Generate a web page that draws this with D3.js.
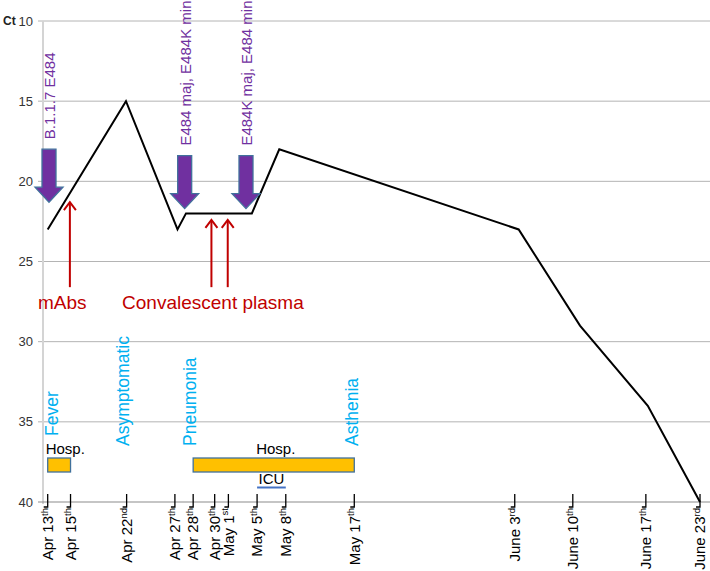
<!DOCTYPE html>
<html>
<head>
<meta charset="utf-8">
<script src="https://cdn.jsdelivr.net/npm/d3@7"></script>
<style>
  body { margin: 0; background: #fff; }
  text { font-family: Arial, "Liberation Sans", sans-serif; }
</style>
</head>
<body>
<svg id="chart" width="710" height="571"></svg>
<script>
// y axis (Ct values, inverted)
var ctTicks = [10, 15, 20, 25, 30, 35, 40];

// custom (non-linear) date axis, positions in axis units 0..100
var dateLabels = ["Apr 13", "Apr 15", "Apr 22", "Apr 27", "Apr 28", "Apr 30", "May 1",
                  "May 5", "May 8", "May 17", "June 3", "June 10", "June 17", "June 23"];
var dateSup = ["th", "th", "nd", "th", "th", "th", "st", "th", "th", "th", "rd", "th", "th", "rd"];
var datePos = [0, 3.5, 12.1, 19.5, 22.3, 25.6, 27.7, 32.1, 36.5, 47.0, 71.6, 80.5, 91.7, 100];

// Ct curve
var ctPos = [0, 12.0, 19.9, 21.2, 31.3, 35.5, 72.2, 81.6, 92.0, 100];
var ctValues = [23, 15, 23, 22, 22, 18, 23, 29, 34, 40];

// variant arrows (purple)
var variantLabels = ["B.1.1.7 E484", "E484 maj, E484K min", "E484K maj, E484 min"];
var variantPos = [0.2, 21.0, 30.4];
var variantTip = [21.3, 21.7, 21.7];

// treatments (red arrows)
var treatLabels = ["mAbs", "Convalescent plasma"];
var treatLabelPos = [-1.5, 11.4];
var treatPos = [3.4, 25.1, 27.6];
var treatTip = [21.3, 22.4, 22.4];

// symptoms
var symptomLabels = ["Fever", "Asymptomatic", "Pneumonia", "Asthenia"];
var symptomPos = [0.6, 11.5, 21.8, 46.6];

// hospital stays and ICU
var hospStart = [0, 22.3];
var hospEnd = [3.5, 47.0];
var icuRange = [32.1, 36.5];

var W = 710, H = 571;
var svg = d3.select("#chart");

var x = d3.scaleLinear().domain([0, 100]).range([47.7, 700]);
var y = d3.scaleLinear().domain([10, 40]).range([21, 502]);

//gridlines
svg.append("g")
  .selectAll("line")
  .data(ctTicks.slice(0, -1))
  .enter()
  .append("line")
  .attr("x1", 38).attr("x2", W)
  .attr("y1", function(d){ return y(d); })
  .attr("y2", function(d){ return y(d); })
  .attr("stroke", "#b4b4b4")
  .attr("stroke-width", 1);

// y axis line
svg.append("line")
  .attr("x1", 43).attr("x2", 43)
  .attr("y1", y(10)).attr("y2", y(40) + 2)
  .attr("stroke", "#d4d4d4")
  .attr("stroke-width", 2);

// x axis line
svg.append("line")
  .attr("x1", 38).attr("x2", W)
  .attr("y1", y(40)).attr("y2", y(40))
  .attr("stroke", "#8c8c8c")
  .attr("stroke-width", 1.2);

// y tick labels
svg.append("g")
  .selectAll("text")
  .data(ctTicks)
  .enter()
  .append("text")
  .attr("x", 33)
  .attr("y", function(d){ return y(d); })
  .attr("dy", "0.35em")
  .attr("text-anchor", "end")
  .attr("font-size", 13)
  .attr("fill", "#333")
  .text(function(d){ return d; });

svg.append("text")
  .attr("x", 3)
  .attr("y", y(10))
  .attr("dy", "0.35em")
  .attr("font-size", 12)
  .attr("font-weight", "bold")
  .attr("fill", "#222")
  .text("Ct");

// x ticks
var ticks = svg.append("g")
  .selectAll(".date-tick")
  .data(dateLabels)
  .enter()
  .append("g")
  .attr("class", "date-tick")
  .attr("transform", function(d, i){ return "translate(" + x(datePos[i]) + "," + y(40) + ")"; });

ticks.append("path")
  .attr("d", "M0,-8V5H-4")
  .attr("fill", "none")
  .attr("stroke", "#000")
  .attr("stroke-width", 1.3);

var tickText = ticks.append("text")
  .attr("transform", "translate(0,6) rotate(-90)")
  .attr("dy", "0.35em")
  .attr("text-anchor", "end")
  .attr("font-size", 15)
  .attr("fill", "#000");
tickText.append("tspan").text(function(d){ return d; });
tickText.append("tspan")
  .attr("font-size", 9.5)
  .attr("dy", "-0.55em")
  .text(function(d, i){ return dateSup[i]; });

// hospital bars
svg.append("g")
  .selectAll("rect")
  .data(hospStart)
  .enter()
  .append("rect")
  .attr("x", function(d){ return x(d); })
  .attr("width", function(d, i){ return x(hospEnd[i]) - x(d); })
  .attr("y", 458)
  .attr("height", 14)
  .attr("fill", "#ffc000")
  .attr("stroke", "#41719c")
  .attr("stroke-width", 1.3);

svg.append("text")
  .attr("x", x(hospStart[0]) - 2)
  .attr("y", 454)
  .attr("font-size", 15)
  .text("Hosp.");
svg.append("text")
  .attr("x", (x(hospStart[1]) + x(hospEnd[1])) / 2 + 2)
  .attr("y", 454)
  .attr("text-anchor", "middle")
  .attr("font-size", 15)
  .text("Hosp.");

svg.append("text")
  .attr("x", (x(icuRange[0]) + x(icuRange[1])) / 2)
  .attr("y", 484)
  .attr("text-anchor", "middle")
  .attr("font-size", 15)
  .text("ICU");
svg.append("line")
  .attr("x1", x(icuRange[0])).attr("x2", x(icuRange[1]))
  .attr("y1", 487.5).attr("y2", 487.5)
  .attr("stroke", "#4472c4")
  .attr("stroke-width", 2);

// symptom labels
svg.append("g")
  .selectAll("text")
  .data(symptomLabels)
  .enter()
  .append("text")
  .attr("transform", function(d, i){
    var b = i == 0 ? 436 : 446;
    return "translate(" + x(symptomPos[i]) + "," + b + ") rotate(-90)";
  })
  .attr("dy", "0.35em")
  .attr("font-size", 17.5)
  .attr("fill", "#00b0f0")
  .text(function(d){ return d; });

// Ct line
var line = d3.line()
  .x(function(d, i){ return x(ctPos[i]); })
  .y(function(d){ return y(d); });

svg.append("path")
  .datum(ctValues)
  .attr("d", line)
  .attr("fill", "none")
  .attr("stroke", "#000")
  .attr("stroke-width", 2)
  .attr("stroke-linejoin", "miter");

// purple block arrows
var arrowPath = function(cx, tip){
  var tipY = y(tip);
  var headY = tipY - 15, topY = headY - 38;
  return "M" + (cx - 7) + "," + topY + "H" + (cx + 7) + "V" + headY + "H" + (cx + 14) +
    "L" + cx + "," + tipY + "L" + (cx - 14) + "," + headY + "H" + (cx - 7) + "Z";
};
svg.append("g")
  .selectAll("path")
  .data(variantPos)
  .enter()
  .append("path")
  .attr("d", function(d, i){ return arrowPath(x(d), variantTip[i]); })
  .attr("fill", "#7030a0")
  .attr("stroke", "#41719c")
  .attr("stroke-width", 1.3);

svg.append("g")
  .selectAll("text")
  .data(variantLabels)
  .enter()
  .append("text")
  .attr("transform", function(d, i){
    return "translate(" + (x(variantPos[i]) + 1) + "," + (y(variantTip[i]) - 63) + ") rotate(-90)";
  })
  .attr("dy", "0.35em")
  .attr("font-size", 15)
  .attr("fill", "#7030a0")
  .text(function(d){ return d; });

// red treatment arrows
var redArrows = svg.append("g")
  .selectAll("g")
  .data(treatPos)
  .enter()
  .append("g")
  .attr("transform", function(d){ return "translate(" + x(d) + ",0)"; });
redArrows.append("line")
  .attr("x1", 0).attr("x2", 0)
  .attr("y1", y(26.6))
  .attr("y2", function(d, i){ return y(treatTip[i]) + 1; })
  .attr("stroke", "#c00000")
  .attr("stroke-width", 2);
redArrows.append("path")
  .attr("d", function(d, i){
    var t = y(treatTip[i]);
    return "M-6," + (t + 8) + "L0," + t + "L6," + (t + 8);
  })
  .attr("fill", "none")
  .attr("stroke", "#c00000")
  .attr("stroke-width", 2);

svg.append("g")
  .selectAll("text")
  .data(treatLabels)
  .enter()
  .append("text")
  .attr("x", function(d, i){ return x(treatLabelPos[i]); })
  .attr("y", y(27.95))
  .attr("font-size", 19)
  .attr("fill", "#c00000")
  .text(function(d){ return d; });
</script>
</body>
</html>
